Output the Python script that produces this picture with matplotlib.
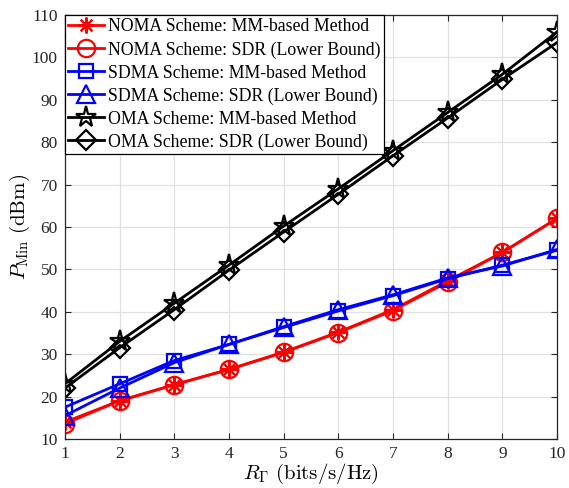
import numpy as np
import matplotlib
matplotlib.use("Agg")
import matplotlib.pyplot as plt

plt.rcParams['font.family'] = ['Liberation Serif', 'DejaVu Serif']
plt.rcParams['mathtext.fontset'] = 'cm'

rate = [1, 2, 3, 4, 5, 6, 7, 8, 9, 10]

noma_mm = [14.0, 19.0, 22.8, 26.4, 30.5, 35.2, 40.5, 47.3, 54.0, 62.0]
noma_sdr = [13.6, 19.0, 22.8, 26.4, 30.4, 35.1, 40.3, 47.0, 54.0, 62.0]
sdma_mm = [17.5, 23.0, 28.5, 32.3, 36.3, 40.2, 43.8, 47.8, 51.0, 54.5]
sdma_sdr = [15.5, 22.0, 28.0, 32.3, 36.5, 40.5, 44.0, 48.0, 50.8, 54.7]
oma_mm = [23.0, 33.0, 42.0, 51.0, 60.2, 69.0, 78.0, 87.0, 96.0, 106.0]
oma_sdr = [22.0, 31.5, 40.5, 49.8, 58.8, 67.7, 76.8, 85.7, 94.8, 103.5]

fig = plt.figure(figsize=(5.69, 4.88), dpi=100)
ax = fig.add_axes([0.114, 0.1004, 0.865, 0.869])

lw = 2.0
ms = 11.5
ax.plot(rate, noma_mm, color='red', marker=(8, 2, 0), lw=lw, ms=ms, mew=1.5, label='NOMA Scheme: MM-based Method')
ax.plot(rate, noma_sdr, color='red', marker='o', lw=lw, ms=ms + 1, mfc='none', mew=1.6, label='NOMA Scheme: SDR (Lower Bound)')
ax.plot(rate, sdma_mm, color='blue', marker='s', lw=lw, ms=ms - 1, mfc='none', mew=1.6, label='SDMA Scheme: MM-based Method')
ax.plot(rate, sdma_sdr, color='blue', marker='^', lw=lw, ms=ms + 2, mfc='none', mew=1.6, label='SDMA Scheme: SDR (Lower Bound)')
ax.plot(rate, oma_mm, color='black', marker='*', lw=lw, ms=ms + 4, mfc='none', mew=1.6, label='OMA Scheme: MM-based Method')
ax.plot(rate, oma_sdr, color='black', marker='D', lw=lw, ms=ms - 1, mfc='none', mew=1.6, label='OMA Scheme: SDR (Lower Bound)')

ax.set_xlim(1, 10)
ax.set_ylim(10, 110)
ax.set_xticks(range(1, 11))
ax.set_yticks(range(10, 111, 10))
ax.tick_params(direction='in', labelsize=12.5, top=True, right=True, length=4,
               labelcolor='#262626', color='#262626')
ax.tick_params(axis='x', pad=5)
ax.tick_params(axis='y', pad=5)
ax.grid(True, color='#e0e0e0', lw=0.9)
ax.set_axisbelow(True)
for s in ax.spines.values():
    s.set_linewidth(0.9)
    s.set_color('#262626')

ax.set_xlabel(r'$R_{\Gamma}\ \mathrm{(bits/s/Hz)}$', fontsize=15, labelpad=0)
ax.set_ylabel(r'$P_{\mathrm{Min}}\ \mathrm{(dBm)}$', fontsize=15, labelpad=0)

leg = ax.legend(loc='upper left', fontsize=12.8, fancybox=False, edgecolor='black',
                borderaxespad=0, handlelength=2.0, handletextpad=0.25,
                labelspacing=0.33, borderpad=0.2, framealpha=1)
leg.get_frame().set_linewidth(0.9)

fig.savefig('out.png', dpi=100)
